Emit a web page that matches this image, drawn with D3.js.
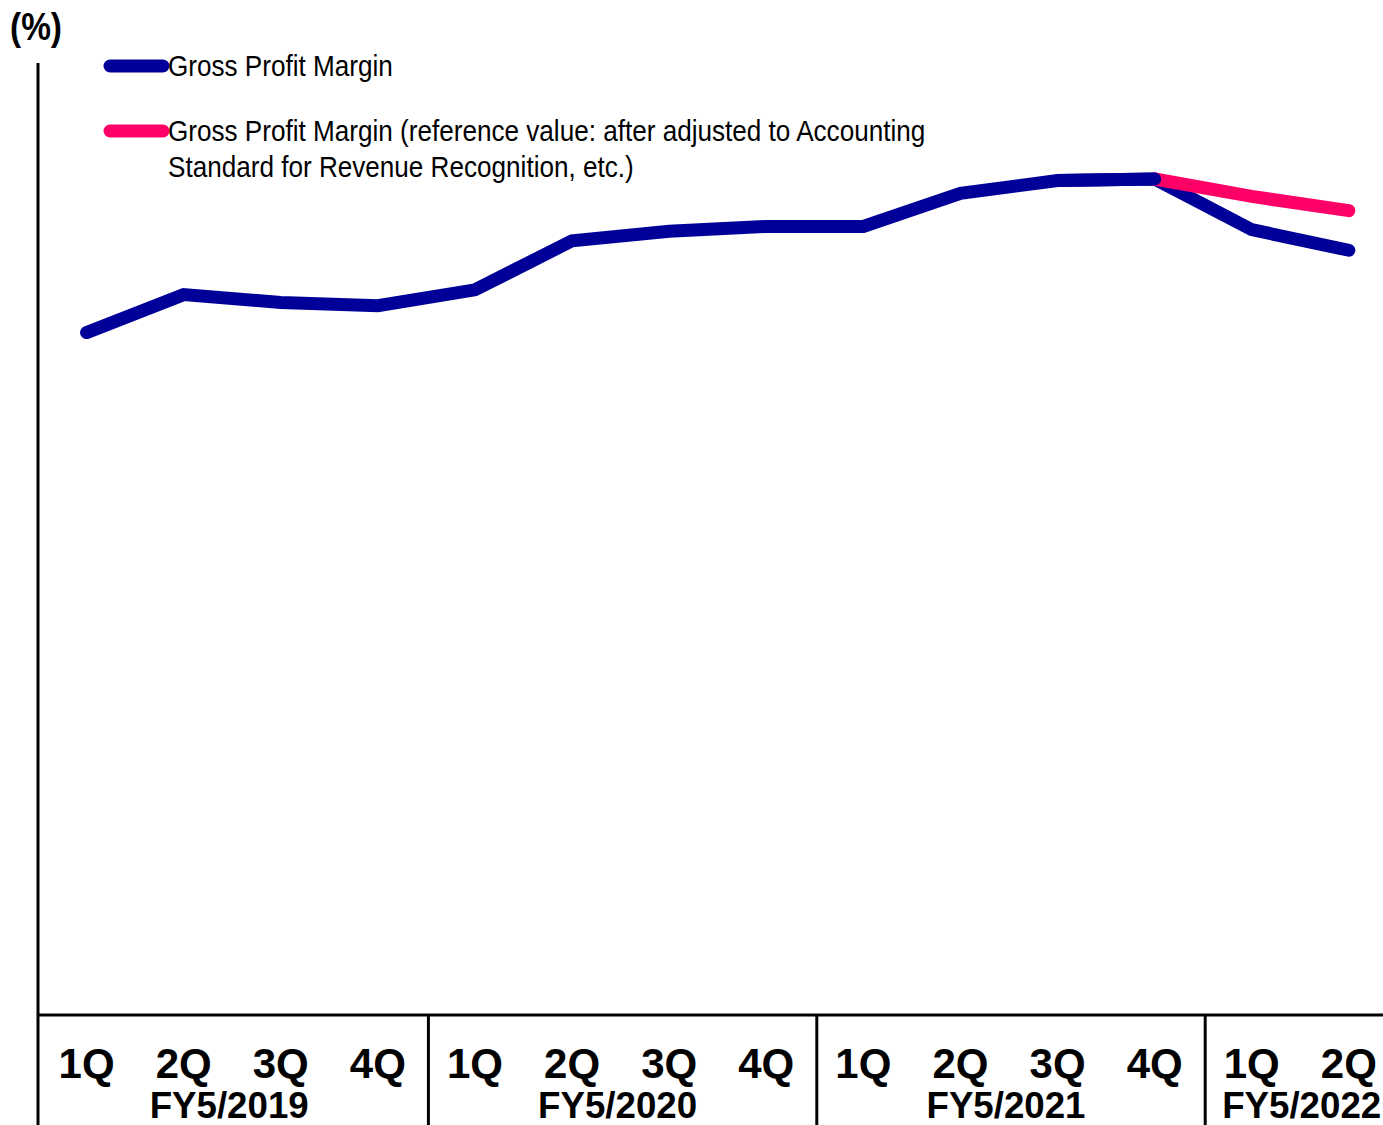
<!DOCTYPE html>
<html>
<head>
<meta charset="utf-8">
<script src="https://cdn.jsdelivr.net/npm/d3@7"></script>
<style>
  html, body { margin: 0; padding: 0; background: #fff; }
  svg { display: block; }
</style>
</head>
<body>
<svg id="chart" width="1383" height="1125"></svg>
<script>
// quarters on the x axis, grouped by fiscal year
const quarters = ["1Q", "2Q", "3Q", "4Q", "1Q", "2Q", "3Q", "4Q", "1Q", "2Q", "3Q", "4Q", "1Q", "2Q"];
const fiscalYears = ["FY5/2019", "FY5/2020", "FY5/2021", "FY5/2022"];
const yearSizes = [4, 4, 4, 2];

// gross profit margin (%)
const grossMargin = [43.1, 45.5, 45.0, 44.8, 45.8, 48.9, 49.5, 49.8, 49.8, 51.9, 52.7, 52.8, 49.6, 48.3];
// reference value after the revenue recognition standard, starts at 4Q FY5/2021
const refStart = 11;
const refMargin = [52.8, 51.7, 50.8];

const legendLabels = [
    ["Gross Profit Margin"],
    ["Gross Profit Margin (reference value: after adjusted to Accounting", "Standard for Revenue Recognition, etc.)"]
];

const blue = "#000099";
const pink = "#ff0066";

const width = 1383;
const height = 1125;
const left = 38;
const baseY = 1015;
const topY = 65;

// the original type is a narrow face; squeeze the regular one to the same width
const narrow = 0.87;

const svg = d3.select("#chart");

const keys = quarters.map((q, i) => i);
const xScale = d3.scaleBand().domain(keys).range([left, left + 14 * 97.1]).padding(0);
const yScale = d3.scaleLinear().domain([0, 60]).range([baseY, topY]);

const cx = i => xScale(i) + xScale.bandwidth() / 2;

function narrowText(sel) {
    // measure the natural width and compress it horizontally
    sel.each(function() {
        const w = this.getComputedTextLength();
        d3.select(this)
            .attr("textLength", w * narrow)
            .attr("lengthAdjust", "spacingAndGlyphs");
    });
}

// lines
const line = d3.line()
    .x(d => cx(d.i))
    .y(d => yScale(d.v));

const blueData = grossMargin.map((v, i) => ({ i: i, v: v }));
const pinkData = refMargin.map((v, k) => ({ i: refStart + k, v: v }));

svg.append("path")
    .datum(blueData)
    .attr("d", line)
    .attr("fill", "none")
    .attr("stroke", blue)
    .attr("stroke-width", 13)
    .attr("stroke-linecap", "round")
    .attr("stroke-linejoin", "miter");

svg.append("path")
    .datum(pinkData)
    .attr("d", line)
    .attr("fill", "none")
    .attr("stroke", pink)
    .attr("stroke-width", 13)
    .attr("stroke-linecap", "round")
    .attr("stroke-linejoin", "miter");

// blue part up to 4Q FY5/2021 sits on top of the pink start
svg.append("path")
    .datum(blueData.slice(refStart - 1, refStart + 1))
    .attr("d", line)
    .attr("fill", "none")
    .attr("stroke", blue)
    .attr("stroke-width", 13)
    .attr("stroke-linecap", "round");

// axes
svg.append("line")
    .attr("x1", left).attr("x2", left)
    .attr("y1", topY - 2).attr("y2", height)
    .attr("stroke", "#000").attr("stroke-width", 3);

svg.append("line")
    .attr("x1", left).attr("x2", width)
    .attr("y1", baseY).attr("y2", baseY)
    .attr("stroke", "#000").attr("stroke-width", 3);

// quarter labels
svg.append("g")
    .selectAll("text")
    .data(keys)
    .enter().append("text")
    .attr("x", d => cx(d))
    .attr("y", 1078)
    .attr("text-anchor", "middle")
    .style("font-family", "'Liberation Sans', Arial, sans-serif")
    .style("font-weight", "bold")
    .style("font-size", "42px")
    .text(d => quarters[d]);

// fiscal year separators and labels
let start = 0;
fiscalYears.forEach((fy, k) => {
    const end = start + yearSizes[k];
    const x0 = xScale(start);
    const x1 = Math.min(xScale(end - 1) + xScale.bandwidth(), width);
    if (k > 0) {
        svg.append("line")
            .attr("x1", x0 + 2).attr("x2", x0 + 2)
            .attr("y1", baseY).attr("y2", height)
            .attr("stroke", "#000").attr("stroke-width", 3);
    }
    const last = k === fiscalYears.length - 1;
    svg.append("text")
        .attr("x", last ? x0 + 19 : (x0 + x1) / 2 - 3)
        .attr("y", 1118)
        .attr("text-anchor", last ? "start" : "middle")
        .style("font-family", "'Liberation Sans', Arial, sans-serif")
        .style("font-weight", "bold")
        .style("font-size", "37px")
        .attr("textLength", 159)
        .attr("lengthAdjust", "spacingAndGlyphs")
        .text(fy);
    start = end;
});

// unit label
svg.append("text")
    .attr("x", 10)
    .attr("y", 40)
    .style("font-family", "'Liberation Sans', Arial, sans-serif")
    .style("font-weight", "bold")
    .style("font-size", "38px")
    .attr("textLength", 52)
    .attr("lengthAdjust", "spacingAndGlyphs")
    .text("(%)");

// legend
const legendY = [66, 131];
const legendColors = [blue, pink];
legendLabels.forEach((lines, k) => {
    svg.append("line")
        .attr("x1", 110).attr("x2", 163)
        .attr("y1", legendY[k]).attr("y2", legendY[k])
        .attr("stroke", legendColors[k])
        .attr("stroke-width", 13)
        .attr("stroke-linecap", "round");
    lines.forEach((t, j) => {
        svg.append("text")
            .attr("x", 168)
            .attr("y", legendY[k] + 10 + j * 36)
            .style("font-family", "'Liberation Sans', Arial, sans-serif")
            .style("font-size", "30px")
            .text(t)
            .call(narrowText);
    });
});
</script>
</body>
</html>
